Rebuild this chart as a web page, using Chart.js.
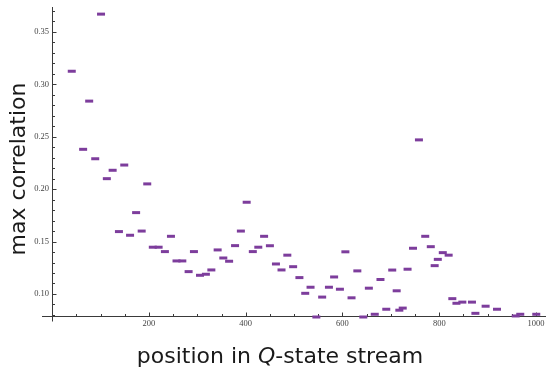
<!DOCTYPE html>
<html>
<head>
<meta charset="utf-8">
<script src="https://cdn.jsdelivr.net/npm/chart.js@4.4.1/dist/chart.umd.min.js"></script>
<style>
    html, body { margin: 0; padding: 0; background: #fff; }
    #wrap { width: 553px; height: 368px; position: relative; }
</style>
</head>
<body>
<div id="wrap"><canvas id="corrChart"></canvas></div>
<script>
// #############################################################################
// Data

const positions = [
    40.5, 64, 76.5, 89, 101, 113, 125, 138, 149, 161,
    173.5, 185, 196.5, 208, 220, 233, 245.5, 257, 269, 282,
    293, 305.5, 317.7, 329, 342, 353.7, 365.7, 378, 390, 402,
    414.7, 426, 438, 450, 462.5, 474, 486, 498, 511, 523,
    534, 546, 558, 572, 582.7, 594.7, 606, 618.7, 630.7, 643,
    654.5, 666.7, 678.5, 690.5, 702.8, 712, 717.5, 724.5, 734.5, 745.7,
    758, 771, 782.5, 790.5, 797, 807.3, 819.4, 827, 835.5, 847.7,
    867.6, 874.7, 895.8, 919.3, 958, 967.4, 1000.5,
];
const maxCorrelation = [
    0.3125, 0.238, 0.284, 0.229, 0.367, 0.210, 0.218, 0.1595, 0.223, 0.156,
    0.1776, 0.160, 0.205, 0.1446, 0.1446, 0.1404, 0.155, 0.1315, 0.1315, 0.1213,
    0.1404, 0.1178, 0.1188, 0.1229, 0.142, 0.1343, 0.1312, 0.1461, 0.160, 0.1875,
    0.1404, 0.1446, 0.155, 0.146, 0.1286, 0.1229, 0.137, 0.126, 0.1156, 0.1006,
    0.1064, 0.078, 0.097, 0.1064, 0.1162, 0.1045, 0.1402, 0.0963, 0.122, 0.078,
    0.1055, 0.0806, 0.1138, 0.0854, 0.1228, 0.103, 0.0845, 0.0865, 0.1236, 0.1436,
    0.247, 0.155, 0.1451, 0.127, 0.133, 0.1394, 0.137, 0.0955, 0.0911, 0.0922,
    0.0922, 0.0815, 0.0883, 0.0854, 0.079, 0.0806, 0.0806,
];

// Tick labels
const xTickValues = [200, 400, 600, 800, 1000];
const yTickValues = [0.10, 0.15, 0.20, 0.25, 0.30, 0.35];

// Axis titles
const xTitleParts = ["position in ", "Q", "-state stream"];
const yTitle = "max correlation";

// #############################################################################
// Mathematica-style axes (drawn from the chart's own scales)

const axisColor = "#3a3a3a";
const tickFont = "8.5px 'Liberation Serif'";
const titleFont = "22px 'DejaVu Sans'";

const mmaAxes = {
    id: "mmaAxes",
    beforeDatasetsDraw(chart) {
        const { ctx, chartArea } = chart;
        const xs = chart.scales.x;
        const ys = chart.scales.y;
        const xAxisY = Math.round(chartArea.bottom) - 0.5;
        const yAxisX = Math.floor(xs.getPixelForValue(0)) + 0.5;

        ctx.save();
        ctx.strokeStyle = axisColor;
        ctx.lineWidth = 1;

        // axis lines
        ctx.beginPath();
        ctx.moveTo(chartArea.left, xAxisY);
        ctx.lineTo(chartArea.right, xAxisY);
        ctx.moveTo(yAxisX, chartArea.top);
        ctx.lineTo(yAxisX, xAxisY + 5);
        ctx.stroke();

        // x ticks (minor every 50, major on labels)
        ctx.beginPath();
        for (let v = 50; v <= xs.max; v += 50) {
            const px = Math.round(xs.getPixelForValue(v)) + 0.5;
            const len = xTickValues.includes(v) ? 4 : 2.5;
            ctx.moveTo(px, xAxisY);
            ctx.lineTo(px, xAxisY - len);
        }
        // y ticks (minor every 0.01)
        for (let k = 8; k / 100 <= ys.max; k++) {
            const v = k / 100;
            const py = Math.round(ys.getPixelForValue(v)) + 0.5;
            const major = yTickValues.some((t) => Math.abs(t - v) < 1e-9);
            ctx.moveTo(yAxisX, py);
            ctx.lineTo(yAxisX + (major ? 4 : 2.5), py);
        }
        ctx.stroke();

        // tick labels
        ctx.fillStyle = "#444";
        ctx.font = tickFont;
        ctx.textAlign = "center";
        ctx.textBaseline = "middle";
        xTickValues.forEach((v) => {
            ctx.fillText(String(v), xs.getPixelForValue(v), xAxisY + 7);
        });
        ctx.textAlign = "right";
        yTickValues.forEach((v) => {
            ctx.fillText(v.toFixed(2), yAxisX - 3.5, ys.getPixelForValue(v));
        });

        // x title with italic Q
        ctx.fillStyle = "#1a1a1a";
        ctx.textBaseline = "alphabetic";
        ctx.textAlign = "left";
        const fonts = [titleFont, "italic " + titleFont, titleFont];
        const widths = xTitleParts.map((s, i) => {
            ctx.font = fonts[i];
            return ctx.measureText(s).width;
        });
        let tx = 280 - widths.reduce((a, b) => a + b, 0) / 2;
        xTitleParts.forEach((s, i) => {
            ctx.font = fonts[i];
            ctx.fillText(s, tx, 363);
            tx += widths[i];
        });

        // y title, rotated
        ctx.save();
        ctx.translate(25, 169);
        ctx.rotate(-Math.PI / 2);
        ctx.font = titleFont;
        ctx.textAlign = "center";
        ctx.fillText(yTitle, 0, 0);
        ctx.restore();

        ctx.restore();
    },
};

// #############################################################################
// Chart

const ctx = document.getElementById("corrChart").getContext("2d");
const chart = new Chart(ctx, {
    type: "scatter",
    data: {
        datasets: [
            {
                label: "max correlation",
                data: positions.map((p, i) => ({ x: p, y: maxCorrelation[i] })),
                pointStyle: "line",
                pointRadius: 4,
                pointHoverRadius: 4,
                borderWidth: 3,
                pointBorderWidth: 3,
                borderColor: "#7d3d9c",
                backgroundColor: "#7d3d9c",
                clip: false,
            },
        ],
    },
    options: {
        responsive: true,
        maintainAspectRatio: false,
        animation: false,
        devicePixelRatio: 1,
        layout: {
            padding: { left: 42, right: 0, top: 7, bottom: 51 },
        },
        plugins: {
            legend: { display: false },
            tooltip: { enabled: false },
        },
        scales: {
            x: {
                type: "linear",
                min: -21,
                max: 1020.6,
                display: false,
            },
            y: {
                type: "linear",
                min: 0.078,
                max: 0.3738,
                display: false,
            },
        },
    },
    plugins: [mmaAxes],
});
</script>
</body>
</html>
